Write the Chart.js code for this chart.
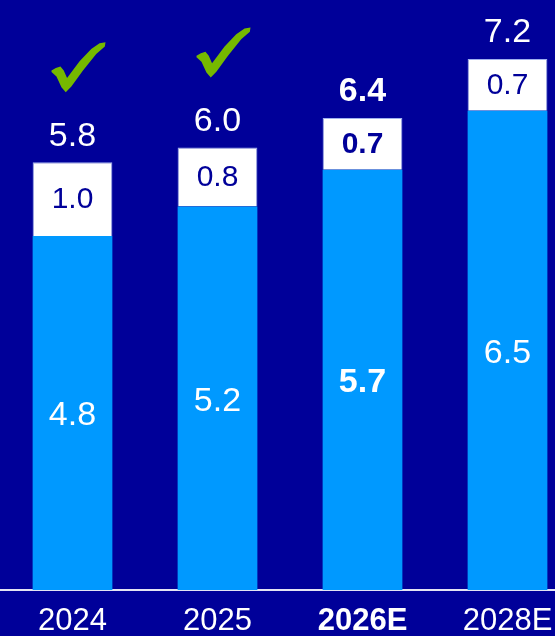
<!DOCTYPE html>
<html>
<head>
<meta charset="utf-8">
<script src="https://cdn.jsdelivr.net/npm/chart.js@4/dist/chart.umd.min.js"></script>
<style>
  html, body { margin: 0; padding: 0; background: #000099; overflow: hidden; }
  #wrap { width: 555px; height: 636px; overflow: hidden; position: relative; }
  #chart { display: block; }
</style>
</head>
<body>
<div id="wrap"><canvas id="chart" width="580" height="636"></canvas></div>
<script>
// ─── DATA
const categories = ['2024', '2025', '2026E', '2028E'];
const coreValues = [4.8, 5.2, 5.7, 6.5];     // light blue segment
const extraValues = [1.0, 0.8, 0.7, 0.7];    // white segment
const totals = [5.8, 6.0, 6.4, 7.2];
const achieved = [true, true, false, false]; // green tick above bar
const highlight = [false, false, true, false]; // bold column

const NAVY = '#000099';
const LIGHT_BLUE = '#0099ff';
const TICK_GREEN = '#76b900';
const FONT = '"Liberation Sans", Arial, sans-serif';

// checkmark outline, normalised to its own box
const tickShape = [
  [0, 0.567], [0.08, 0.513], [0.166, 0.487], [0.227, 0.567], [0.288, 0.713],
  [0.52, 0.38], [0.736, 0.133], [0.89, 0.02], [1, 0], [0.988, 0.087],
  [0.828, 0.233], [0.583, 0.567], [0.368, 0.887], [0.264, 1], [0.184, 0.9],
  [0.092, 0.687], [0, 0.593]
];

// ─── LABELS + TICKS PLUGIN
const barLabels = {
  id: 'barLabels',
  afterDatasetsDraw(chart) {
    const ctx = chart.ctx;
    const coreMeta = chart.getDatasetMeta(0);
    const extraMeta = chart.getDatasetMeta(1);
    ctx.save();
    ctx.textAlign = 'center';
    ctx.textBaseline = 'middle';
    categories.forEach((cat, i) => {
      const weight = highlight[i] ? 'bold ' : '';
      const core = coreMeta.data[i];
      const extra = extraMeta.data[i];

      ctx.fillStyle = '#ffffff';
      ctx.font = weight + '34px ' + FONT;
      ctx.fillText(coreValues[i].toFixed(1), core.x, (core.y + core.base) / 2 + 3);

      ctx.fillStyle = NAVY;
      ctx.font = weight + '30px ' + FONT;
      ctx.fillText(extraValues[i].toFixed(1), extra.x, (extra.y + extra.base) / 2 + 1);

      ctx.fillStyle = '#ffffff';
      ctx.font = weight + '34px ' + FONT;
      ctx.fillText(totals[i].toFixed(1), extra.x, extra.y - 26);

      if (achieved[i]) {
        const w = 54, h = 50;
        const left = extra.x - 21;
        const top = extra.y - 70 - h;
        ctx.fillStyle = TICK_GREEN;
        ctx.beginPath();
        tickShape.forEach(([px, py], k) => {
          const x = left + px * w, y = top + py * h;
          if (k === 0) ctx.moveTo(x, y); else ctx.lineTo(x, y);
        });
        ctx.closePath();
        ctx.fill();
      }
    });
    ctx.restore();
  }
};

new Chart(document.getElementById('chart'), {
  type: 'bar',
  data: {
    labels: categories,
    datasets: [
      { data: coreValues, backgroundColor: LIGHT_BLUE, borderWidth: 0 },
      { data: extraValues, backgroundColor: '#ffffff', borderColor: '#9fb0ee', borderWidth: 1 }
    ]
  },
  options: {
    responsive: false,
    animation: false,
    devicePixelRatio: 1,
    layout: { padding: 0 },
    datasets: { bar: { categoryPercentage: 0.55, barPercentage: 1 } },
    plugins: { legend: { display: false }, tooltip: { enabled: false } },
    scales: {
      x: {
        stacked: true,
        grid: { display: false, drawTicks: false },
        border: { display: true, color: '#e4e4f4', width: 2 },
        ticks: {
          color: '#ffffff',
          padding: 13,
          font: (c) => ({ family: FONT, size: 31, weight: highlight[c.index] ? 'bold' : 'normal' })
        },
        afterFit(scale) { scale.height = 46; }
      },
      y: { stacked: true, display: false, min: 0, max: 8 }
    }
  },
  plugins: [barLabels]
});
</script>
</body>
</html>
